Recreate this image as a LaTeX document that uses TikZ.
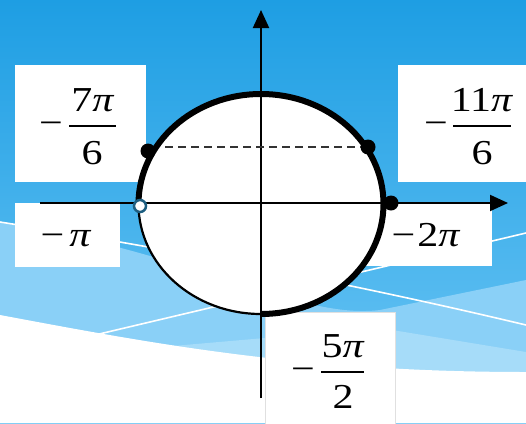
\documentclass[tikz,border=0pt]{standalone}
\usepackage{fontspec}
\setmainfont{Liberation Serif}
\newfontfamily\lblfont{Liberation Serif}[FakeStretch=1.2]
\usetikzlibrary{arrows.meta}
\definecolor{bgtop}{HTML}{1E9EE3}
\definecolor{bgbot}{HTML}{6CC6F5}
\definecolor{bandA}{HTML}{8AD0F7}
\definecolor{bandB}{HTML}{A6DCF9}
\definecolor{ocol}{HTML}{1D5E80}
\definecolor{dashcol}{HTML}{333333}
\begin{document}
\begin{tikzpicture}[x=1pt,y=-1pt,
  box/.style={fill=white, draw=none, inner sep=0pt},
  lbl/.style={font=\lblfont\fontsize{35}{40}\selectfont, inner sep=0pt, anchor=base},
  fracbar/.style={line width=1.5pt},
  axisline/.style={line width=2pt, -{Triangle[length=18pt,width=16pt]}},
  dotmark/.style={circle, fill=black, inner sep=0pt, minimum size=15pt},
  opendot/.style={circle, fill=white, draw=ocol, line width=2.5pt, minimum size=12pt, inner sep=0pt},
  wline/.style={white, line width=1.6pt}]
\useasboundingbox (0,0) rectangle (526,423);
\clip (0,0) rectangle (526,423);
% background
\fill[top color=bgtop, bottom color=bgbot] (0,0) rectangle (526,423);
\fill[bandA] (0,222) .. controls (200,255) and (300,320) .. (380,310) -- (526,280) -- (526,423) -- (0,423) -- cycle;
\fill[bandB] (150,348) -- (380,328) -- (526,352) -- (526,423) -- (150,423) -- cycle;
\fill[white] (0,315) .. controls (150,343) and (300,372) .. (526,372) -- (526,423) -- (0,423) -- cycle;
\draw[wline] (0,222) .. controls (175,250) and (350,283) .. (526,325);
\draw[wline] (95,335) -- (526,233);
% label boxes
\node[box, minimum width=131pt, minimum height=117pt] (box7) at (80.5,123.5) {};
\node[box, minimum width=132pt, minimum height=117pt] (box11) at (464,123.5) {};
\node[box, minimum width=105pt, minimum height=64pt] (boxpi) at (67.5,235) {};
\node[box, minimum width=126pt, minimum height=63pt] (box2pi) at (429,234.5) {};
\node[box, draw=black!12, line width=0.8pt, minimum width=130pt, minimum height=118pt] (box5) at (330,371) {};
% circle
\coordinate (O) at (261,204);
\fill[white] (O) ellipse [x radius=122.5pt, y radius=110pt];
\draw[line width=2.2pt] (O) ellipse [x radius=122.5pt, y radius=110pt];
\draw[line width=6pt] (138.5,204) arc[start angle=180, end angle=-90, x radius=122.5pt, y radius=110pt];
% axes
\coordinate (xs) at (40,203);
\coordinate (xe) at (508,203);
\coordinate (ys) at (261,398);
\coordinate (ye) at (261,10);
\draw[axisline] (xs) -- (xe);
\draw[axisline] (ys) -- (ye);
% points
\node[dotmark] (p7) at (148,151) {};
\node[dotmark] (p11) at (368,147) {};
\draw[dashcol, line width=1.8pt, dash pattern=on 8pt off 5pt] (p7) ++(17,-4) coordinate (d1) -- (p11.west |- d1);
\node[dotmark] (p2) at (391,203) {};
\node[opendot] (ppi) at (140,206) {};
% labels
\node[lbl] (m7) at (51,134) {−};
\node[lbl] (n7) at (93,111) {7\textit{π}};
\node[lbl] (d7) at (92,164) {6};
\coordinate (b7a) at (69,126); \coordinate (b7b) at (116,126);
\draw[fracbar] (b7a) -- (b7b);
\node[lbl] (m11) at (436,134) {−};
\node[lbl] (n11) at (482,111) {11\textit{π}};
\node[lbl] (d11) at (482,164) {6};
\coordinate (b11a) at (453,126); \coordinate (b11b) at (511,126);
\draw[fracbar] (b11a) -- (b11b);
\node[lbl] (lpi) at (66,246) {−\hspace{5pt}\textit{π}};
\node[lbl] (l2pi) at (426,246) {−\hspace{2pt}2\textit{π}};
\node[lbl] (m5) at (303,380) {−};
\node[lbl] (n5) at (343,357) {5\textit{π}};
\node[lbl] (d5) at (343,408) {2};
\coordinate (b5a) at (321,372); \coordinate (b5b) at (364,372);
\draw[fracbar] (b5a) -- (b5b);
\end{tikzpicture}
\end{document}
